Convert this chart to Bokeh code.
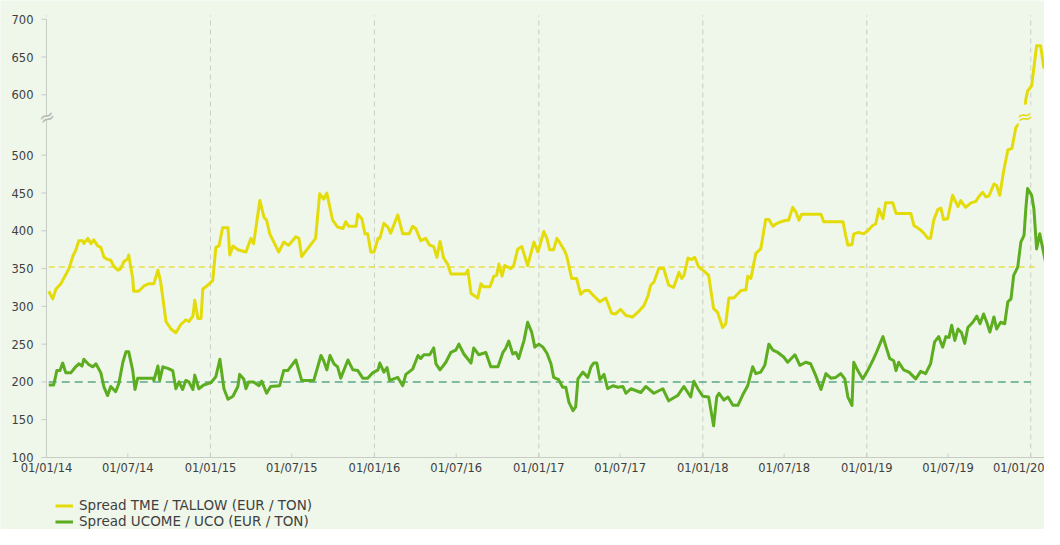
import math
import pandas as pd
from bokeh.plotting import figure
from bokeh.models import Legend, LegendItem, Label, ColumnDataSource
from bokeh.core.properties import value
from bokeh.embed import file_html
from bokeh.resources import INLINE

# ---------------- data (days since 01/01/14, EUR / TON) ----------------
tme_days = [
    5, 14, 21, 32, 50, 59, 65, 72, 81, 83,
    92, 99, 105, 114, 121, 128, 136, 143, 150, 159,
    165, 172, 181, 183, 192, 194, 205, 217, 228, 239,
    248, 254, 266, 277, 288, 299, 310, 317, 326, 330,
    337, 344, 348, 359, 370, 377, 384, 392, 404, 408,
    415, 426, 444, 455, 461, 475, 484, 490, 497, 506,
    517, 528, 539, 555, 562, 568, 599, 608, 617, 624,
    637, 648, 660, 666, 673, 689, 693, 702, 709, 715,
    722, 729, 738, 742, 751, 760, 766, 782, 793, 807,
    815, 822, 833, 844, 853, 862, 869, 876, 884, 893,
    900, 933, 938, 945, 960, 967, 973, 987, 996, 1002,
    1007, 1014, 1020, 1034, 1040, 1049, 1058, 1071, 1085, 1094,
    1107, 1114, 1120, 1129, 1136, 1143, 1152, 1158, 1169, 1180,
    1189, 1198, 1207, 1218, 1232, 1245, 1258, 1267, 1278, 1290,
    1305, 1316, 1330, 1339, 1345, 1352, 1363, 1374, 1385, 1396,
    1408, 1414, 1419, 1428, 1436, 1443, 1452, 1463, 1474, 1485,
    1494, 1505, 1512, 1519, 1530, 1546, 1557, 1561, 1568, 1579,
    1590, 1601, 1608, 1617, 1623, 1635, 1646, 1652, 1661, 1668,
    1675, 1681, 1724, 1730, 1773, 1779, 1784, 1793, 1797, 1808,
    1819, 1828, 1839, 1846, 1853, 1862, 1868, 1884, 1891, 1924,
    1931, 1946, 1953, 1962, 1968, 1975, 1984, 1991, 1997, 2006,
    2017, 2029, 2035, 2046, 2058, 2069, 2075, 2084, 2091, 2098,
    2109, 2115, 2122, 2131, 2140, 2149, 2158, 2167, 2176, 2180,
    2184, 2193, 2198, 2204, 2213, 2220, 2229]
tme_values = [
    320, 310, 323, 330, 350, 367, 374, 387, 387, 383,
    390, 383, 388, 380, 378, 365, 362, 361, 353, 348,
    350, 359, 363, 368, 337, 320, 320, 327, 330, 330,
    348, 333, 280, 270, 265, 276, 282, 280, 287, 308,
    284, 284, 323, 328, 334, 378, 380, 404, 404, 368,
    380, 375, 372, 390, 383, 440, 418, 414, 396, 385,
    372, 385, 381, 392, 390, 366, 390, 449, 442, 450,
    414, 405, 403, 412, 406, 406, 422, 416, 396, 396,
    372, 372, 390, 390, 410, 405, 397, 421, 396, 396,
    406, 403, 387, 390, 381, 379, 365, 386, 364, 356,
    343, 343, 348, 317, 311, 330, 326, 326, 340, 341,
    356, 340, 354, 350, 354, 376, 379, 354, 385, 372,
    399, 390, 375, 375, 390, 384, 375, 367, 337, 337,
    316, 321, 321, 314, 306, 311, 291, 290, 296, 288,
    286, 292, 301, 314, 328, 332, 350, 350, 328, 325,
    345, 337, 341, 364, 362, 365, 352, 347, 341, 297,
    292, 272, 277, 311, 311, 321, 322, 340, 337, 370,
    376, 415, 415, 406, 409, 412, 414, 414, 431, 425,
    414, 422, 422, 412, 412, 394, 381, 382, 396, 398,
    396, 400, 407, 409, 429, 416, 437, 437, 423, 423,
    407, 401, 397, 390, 390, 414, 428, 430, 415, 416,
    447, 432, 440, 431, 437, 439, 445, 451, 445, 446,
    462, 460, 447, 480, 507, 509, 537, 543, 545, 594,
    605, 612, 636, 665, 665, 636, 635]

ucome_days = [
    5, 16, 23, 30, 36, 43, 54, 65, 72, 79,
    83, 94, 103, 110, 121, 128, 136, 143, 154, 161,
    170, 177, 183, 192, 197, 203, 237, 239, 248, 252,
    259, 270, 281, 288, 295, 303, 310, 317, 326, 330,
    339, 350, 366, 377, 386, 395, 404, 415, 426, 430,
    439, 444, 450, 461, 473, 479, 490, 499, 519, 528,
    537, 555, 568, 595, 611, 617, 624, 631, 640, 648,
    655, 671, 682, 693, 704, 715, 726, 738, 742, 751,
    758, 764, 782, 793, 800, 815, 827, 833, 840, 853,
    862, 867, 876, 889, 900, 911, 918, 929, 945, 951,
    962, 978, 989, 1005, 1016, 1022, 1029, 1038, 1045, 1051,
    1063, 1071, 1080, 1087, 1096, 1105, 1114, 1123, 1129, 1140,
    1149, 1156, 1163, 1172, 1178, 1183, 1194, 1205, 1212, 1218,
    1225, 1232, 1241, 1249, 1261, 1272, 1283, 1290, 1301, 1323,
    1334, 1352, 1372, 1385, 1405, 1419, 1434, 1441, 1450, 1461,
    1474, 1485, 1492, 1497, 1508, 1517, 1528, 1539, 1550, 1561,
    1572, 1579, 1590, 1599, 1608, 1617, 1628, 1641, 1650, 1666,
    1677, 1690, 1701, 1712, 1724, 1735, 1746, 1757, 1768, 1777,
    1784, 1793, 1797, 1806, 1817, 1828, 1839, 1846, 1862, 1868,
    1877, 1886, 1891, 1897, 1908, 1920, 1935, 1946, 1957, 1968,
    1977, 1986, 1995, 2002, 2009, 2015, 2022, 2029, 2037, 2044,
    2051, 2062, 2071, 2078, 2086, 2093, 2100, 2109, 2115, 2124,
    2133, 2140, 2147, 2153, 2162, 2169, 2176, 2180, 2184, 2193,
    2198, 2204, 2211, 2220, 2229]
ucome_values = [
    196, 196, 215, 215, 225, 212, 212, 220, 224, 221,
    230, 223, 220, 224, 212, 193, 182, 194, 187, 198,
    226, 240, 240, 215, 190, 205, 205, 202, 221, 202,
    220, 218, 215, 191, 200, 190, 202, 200, 190, 209,
    191, 196, 199, 207, 230, 191, 177, 181, 194, 210,
    204, 191, 200, 200, 195, 201, 185, 194, 195, 215,
    215, 229, 202, 202, 235, 228, 216, 235, 224, 220,
    205, 229, 216, 215, 205, 205, 212, 216, 225, 213,
    219, 202, 206, 195, 210, 217, 235, 231, 236, 236,
    245, 224, 216, 226, 239, 242, 250, 237, 225, 245,
    236, 239, 220, 220, 239, 244, 254, 237, 239, 231,
    255, 279, 266, 246, 250, 246, 238, 224, 206, 203,
    193, 193, 173, 162, 167, 204, 213, 206, 220, 225,
    225, 203, 210, 191, 195, 193, 194, 185, 191, 186,
    194, 185, 191, 175, 182, 194, 180, 201, 191, 181,
    180, 142, 180, 185, 176, 180, 169, 169, 183, 195,
    220, 211, 213, 222, 250, 242, 239, 233, 226, 236,
    222, 226, 224, 209, 190, 211, 205, 206, 211, 204,
    180, 169, 226, 215, 204, 215, 228, 237, 260, 248,
    231, 228, 215, 226, 216, 213, 204, 214, 211, 224,
    253, 260, 246, 260, 259, 275, 255, 270, 265, 251,
    272, 279, 287, 277, 290, 279, 266, 286, 270, 279,
    277, 306, 310, 341, 352, 385, 394, 429, 456, 447,
    429, 376, 396, 370, 345]

series_names = ["Spread TME / TALLOW (EUR / TON)", "Spread UCOME / UCO (EUR / TON)"]
mean_values = [352, 200]          # dashed average lines
mean_end_days = [2204, 2191]      # where each average line stops

y_tick_values = [100, 150, 200, 250, 300, 350, 400, 450, 500, 600, 650, 700]
x_tick_dates = ["2014-01-01", "2014-07-01", "2015-01-01", "2015-07-01", "2016-01-01",
                "2016-07-01", "2017-01-01", "2017-07-01", "2018-01-01", "2018-07-01",
                "2019-01-01", "2019-07-01", "2020-01-01"]
x_tick_labels = ["01/01/14", "01/07/14", "01/01/15", "01/07/15", "01/01/16",
                 "01/07/16", "01/01/17", "01/07/17", "01/01/18", "01/07/18",
                 "01/01/19", "01/07/19", "01/01/20"]
grid_dates = ["2014-01-01", "2015-01-01", "2016-01-01", "2017-01-01",
              "2018-01-01", "2019-01-01", "2020-01-01"]

assert len(tme_days) == len(tme_values)
assert len(ucome_days) == len(ucome_values)

# ---------------- broken y axis ----------------
BREAK_AT = 550   # axis is cut just above this value
BREAK_GAP = 20   # units removed above the cut
Y_MIN, Y_MAX = 100, 700


def on_axis(v):
    if v <= BREAK_AT:
        return v
    return max(BREAK_AT, v - BREAK_GAP)


BASE = pd.Timestamp("2014-01-01")
D = lambda n: BASE + pd.Timedelta(days=n)

BG = "#eff6ea"
YELLOW = "#e4dc0a"
GREEN = "#5cad1f"
YELLOW_MEAN = "#e8df4a"
GREEN_MEAN = "#5aa889"
GRID = "#c9cdc6"
AXIS = "#c8ccc5"
BREAK_COL = "#b5bab2"
TEXT = "#404040"
FONT = "DejaVu Sans"

# plot frame covers the whole canvas; axes drawn with the same scales
p = figure(width=1044, height=529, x_axis_type="datetime",
           x_range=(D(-102.4), D(2221.6)),
           y_range=(4.7, 704.8),
           output_backend="svg", toolbar_location=None,
           min_border=0,
           background_fill_color=BG, border_fill_color=BG,
           outline_line_color=None)
p.xaxis.visible = False
p.yaxis.visible = False
p.xgrid.visible = False
p.ygrid.visible = False

y_top = on_axis(Y_MAX) + 5

# vertical year grid lines
gd = [pd.Timestamp(d) for d in grid_dates]
p.segment(x0=gd, y0=[Y_MIN] * len(gd), x1=gd, y1=[y_top] * len(gd),
          line_color=GRID, line_dash="5 4", line_width=1)

# mean lines
for mv, me, col, dash in zip(mean_values, mean_end_days,
                             [YELLOW_MEAN, GREEN_MEAN], ["6 4", "8 5"]):
    p.line(x=[D(tme_days[0]), D(me)], y=[on_axis(mv), on_axis(mv)],
           line_color=col, line_width=1.5, line_dash=dash)

src_tme = ColumnDataSource(dict(
    x=BASE + pd.to_timedelta(tme_days, unit="D"),
    y=[on_axis(v) for v in tme_values]))
src_uco = ColumnDataSource(dict(
    x=BASE + pd.to_timedelta(ucome_days, unit="D"),
    y=[on_axis(v) for v in ucome_values]))

r_tme = p.line("x", "y", source=src_tme, line_color=YELLOW, line_width=3,
               line_join="round")
r_uco = p.line("x", "y", source=src_uco, line_color=GREEN, line_width=3,
               line_join="round")

# ---- y axis (line with a break, ticks, labels) ----
p.segment(x0=[BASE, BASE], y0=[Y_MIN, BREAK_AT + 6],
          x1=[BASE, BASE], y1=[BREAK_AT - 4, on_axis(Y_MAX)],
          line_color=AXIS, line_width=1)
yt = [on_axis(v) for v in y_tick_values]
p.ray(x=[BASE] * len(yt), y=yt, length=5, length_units="screen", angle=math.pi,
      line_color=AXIS, line_width=1)
p.text(x=[BASE] * len(yt), y=yt, text=[str(v) for v in y_tick_values],
       x_offset=-13, text_align="right", text_baseline="middle",
       text_font=value(FONT), text_font_size="11.5px", text_color=TEXT)
p.text(x=[BASE], y=[BREAK_AT + 1], text=["≈"], angle=0.45,
       text_align="center", text_baseline="middle",
       text_font=value(FONT), text_font_size="19px", text_color=BREAK_COL)

# ---- x axis (line, ticks, labels) ----
p.ray(x=[BASE], y=[Y_MIN], length=0, angle=0, line_color=AXIS, line_width=1)
xt = [pd.Timestamp(d) for d in x_tick_dates]
p.ray(x=xt, y=[Y_MIN] * len(xt), length=4, length_units="screen",
      angle=math.pi / 2, line_color=AXIS, line_width=1)
# last label nudged left so it stays inside the canvas
x_label_offsets = [0] * (len(xt) - 1) + [-12]
p.text(x=xt, y=[Y_MIN] * len(xt), text=x_tick_labels,
       x_offset=x_label_offsets, y_offset=4,
       text_align="center", text_baseline="top",
       text_font=value(FONT), text_font_size="11.5px", text_color=TEXT)

# break mark on the TME line
p.add_layout(Label(x=D(2178).value // 10**6, y=BREAK_AT + 2, text="≈",
                   angle=0.2, text_align="center", text_baseline="middle",
                   text_font=FONT, text_font_size="19px", text_color=YELLOW,
                   background_fill_color=BG))

legend = Legend(items=[LegendItem(label=series_names[0], renderers=[r_tme]),
                       LegendItem(label=series_names[1], renderers=[r_uco])],
                location=(55, 0), orientation="vertical",
                background_fill_alpha=0, border_line_color=None,
                label_text_font=FONT, label_text_font_size="13.5px",
                label_text_color=TEXT, glyph_width=18, glyph_height=15,
                label_height=15, spacing=0, padding=0, margin=0,
                label_standoff=6)
p.add_layout(legend)

open("out.html", "w").write(file_html(p, INLINE))
